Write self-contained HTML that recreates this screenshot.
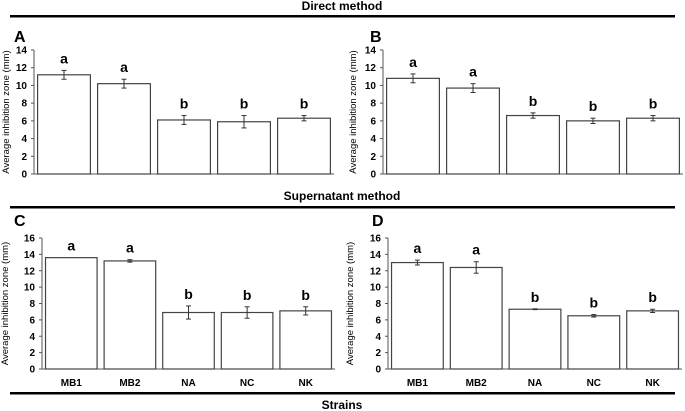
<!DOCTYPE html>
<html><head><meta charset="utf-8"><style>
body{margin:0;background:#fff;}
svg{display:block;font-family:"Liberation Sans",Arial,sans-serif;}
</style></head><body>
<svg id="fig" width="685" height="411" viewBox="0 0 685 411" xmlns="http://www.w3.org/2000/svg">
<text x="342" y="10" text-anchor="middle" font-size="12" font-weight="bold">Direct method</text>
<rect x="10" y="15" width="665" height="2.5" fill="#000"/>
<text x="342" y="200" text-anchor="middle" font-size="12" font-weight="bold">Supernatant method</text>
<rect x="10" y="206" width="665" height="2.5" fill="#000"/>
<rect x="10" y="392" width="665" height="2.5" fill="#000"/>
<text x="342" y="409" text-anchor="middle" font-size="12" font-weight="bold">Strains</text>
</svg>
<script>
const categories=["MB1","MB2","NA","NC","NK"];
const valuesA=[11.2,10.2,6.1,5.9,6.3];
const errorsA=[0.5,0.5,0.5,0.7,0.3];
const lettersA=["a","a","b","b","b"];
const valuesB=[10.8,9.7,6.6,6.0,6.3];
const errorsB=[0.5,0.5,0.3,0.3,0.3];
const lettersB=["a","a","b","b","b"];
const valuesC=[13.6,13.2,6.9,6.9,7.1];
const errorsC=[0,0.15,0.8,0.7,0.5];
const lettersC=["a","a","b","b","b"];
const valuesD=[13.0,12.4,7.3,6.5,7.1];
const errorsD=[0.3,0.7,0.05,0.15,0.2];
const lettersD=["a","a","b","b","b"];
const ticksTop=[0,2,4,6,8,10,12,14];
const ticksBottom=[0,2,4,6,8,10,12,14,16];

const NS="http://www.w3.org/2000/svg";
const svg=document.getElementById('fig');
function mk(tag,attrs,parent){const e=document.createElementNS(NS,tag);for(const k in attrs)e.setAttribute(k,attrs[k]);(parent||svg).appendChild(e);return e;}

function panel(id,cfg){
  const g=mk('g',{});
  
  
  const {x0,x1,yTop,yBot,max,ticks,vals,errs,lets,showCats,titleX,letterX,letterY}=cfg;
  const ys=v=>yBot-(v/max)*(yBot-yTop);
  const slot=(x1-x0)/vals.length;
  // axis
  const ax=mk('line',{x1:x0,y1:yTop,x2:x0,y2:yBot,stroke:'#555','stroke-width':1},g);
  
  
  const bx=mk('line',{x1:x0,y1:yBot,x2:x1,y2:yBot,stroke:'#555','stroke-width':1},g);
  
  
  ticks.forEach(t=>{
    const y=ys(t);
    mk('line',{x1:x0-3,y1:y,x2:x0,y2:y,stroke:'#555'},g);
    const tl=mk('text',{x:x0-7,y:y+3.5,'text-anchor':'end','font-size':10,'font-weight':'bold'},g);
    tl.textContent=t;
    
    
  });
  vals.forEach((v,i)=>{
    const cx=x0+slot*(i+0.5);const w=slot*0.88;
    const r=mk('rect',{x:cx-w/2,y:ys(v),width:w,height:yBot-ys(v),fill:'#fff',stroke:'#444','stroke-width':1.2},g);
    
    
    const e=errs[i];
    if(e>0){
      const eg=mk('g',{stroke:'#333','stroke-width':1},g);
      
      
      mk('line',{x1:cx,y1:ys(v+e),x2:cx,y2:ys(v-e)},eg);
      mk('line',{x1:cx-2.5,y1:ys(v+e),x2:cx+2.5,y2:ys(v+e)},eg);
      mk('line',{x1:cx-2.5,y1:ys(v-e),x2:cx+2.5,y2:ys(v-e)},eg);
    }
    const lt=mk('text',{x:cx,y:ys(v+e)-7,'text-anchor':'middle','font-size':14,'font-weight':'bold'},g);
    lt.textContent=lets[i];
    
    
    if(showCats){
      const cl=mk('text',{x:cx,y:yBot+17,'text-anchor':'middle','font-size':10,'font-weight':'bold'},g);
      cl.textContent=categories[i];
      
      
    }
  });
  const yt=mk('text',{x:0,y:0,'text-anchor':'middle','font-size':9.5,transform:`translate(${titleX},${(yTop+yBot)/2}) rotate(-90)`},g);
  yt.textContent='Average inhibition zone (mm)';
  
  
  const pl=mk('text',{x:letterX,y:letterY,'font-size':16,'font-weight':'bold'},g);
  pl.textContent=id;
  
  
}
panel('A',{x0:34,x1:334,yTop:50,yBot:174,max:14,ticks:ticksTop,vals:valuesA,errs:errorsA,lets:lettersA,showCats:false,titleX:9,letterX:14,letterY:42});
panel('B',{x0:383,x1:683,yTop:50,yBot:174,max:14,ticks:ticksTop,vals:valuesB,errs:errorsB,lets:lettersB,showCats:false,titleX:356,letterX:370,letterY:42});
panel('C',{x0:42,x1:335,yTop:238,yBot:369,max:16,ticks:ticksBottom,vals:valuesC,errs:errorsC,lets:lettersC,showCats:true,titleX:8,letterX:14,letterY:226});
panel('D',{x0:388,x1:682,yTop:238,yBot:369,max:16,ticks:ticksBottom,vals:valuesD,errs:errorsD,lets:lettersD,showCats:true,titleX:353,letterX:372,letterY:226});
</script>
</body></html>
